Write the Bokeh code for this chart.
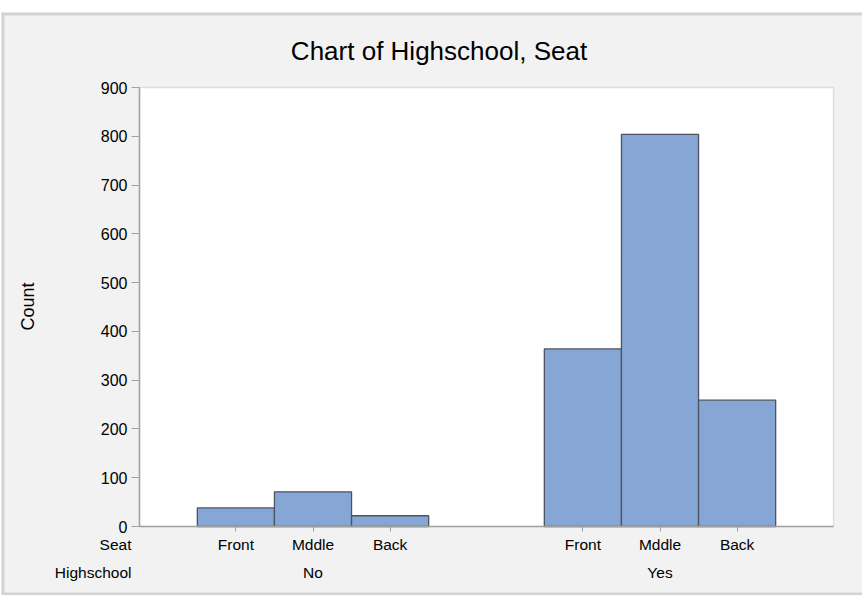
import math
from bokeh.plotting import figure
from bokeh.models import (Range1d, Label, ColumnDataSource, LinearAxis,
                          FixedTicker, BoxAnnotation, Span)
from bokeh.embed import file_html
from bokeh.resources import INLINE

# ---- data ----
groups = ["No", "Yes"]
seats = ["Front", "Mddle", "Back"]
highschool = ["No", "No", "No", "Yes", "Yes", "Yes"]
seat = ["Front", "Mddle", "Back", "Front", "Mddle", "Back"]
counts = [38, 71, 22, 364, 804, 259]
y_ticks = [0, 100, 200, 300, 400, 500, 600, 700, 800, 900]
title_text = "Chart of Highschool, Seat"
y_label = "Count"
x_label_inner = "Seat"
x_label_outer = "Highschool"

FONT = "Liberation Sans"

# ---- category layout (bar = 1 unit) ----
PAD, GAP = 0.75, 1.5
n_sub = len(seats)
x_span = 2 * PAD + len(groups) * n_sub + (len(groups) - 1) * GAP
def bar_center(g, s):
    return PAD + groups.index(g) * (n_sub + GAP) + seats.index(s) + 0.5
xs_bar = [bar_center(g, s) for g, s in zip(highschool, seat)]
group_centers = [sum(x for x, g in zip(xs_bar, highschool) if g == grp) /
                 highschool.count(grp) for grp in groups]
tick_pos = xs_bar
tick_lab = {x: s for x, s in zip(xs_bar, seat)}
y_max = y_ticks[-1]

# ---- canvas geometry (pixels inside the figure) ----
W, H = 861, 583
PA_L, PA_R, PA_T, PA_B = 138, 832, 75, 514
ux = x_span / (PA_R - PA_L)
uy = y_max / (PA_B - PA_T)
x0, x1 = -PA_L * ux, x_span + (W - PA_R) * ux
y0, y1 = -(H - PA_B) * uy, y_max + PA_T * uy

def fx(page_x):
    return x0 + (page_x - 1) * (x1 - x0) / W
def fy(page_y):
    return y1 - (page_y - 12) * (y1 - y0) / H

p = figure(x_range=Range1d(x0, x1), y_range=Range1d(y0, y1),
           width=W, height=H, output_backend="svg", toolbar_location=None,
           x_axis_type=None, y_axis_type=None,
           min_border_left=0, min_border_right=0, min_border_top=0,
           min_border_bottom=0, margin=(12, 0, 0, 1))
p.title.text = ""
p.background_fill_color = "#f2f2f2"
p.border_fill_color = "#f2f2f2"
p.outline_line_color = None
p.xgrid.visible = False
p.ygrid.visible = False

# panel border (left, top, bottom)
for loc, dim in [(x0, "height"), (y1, "width"), (y0, "width")]:
    p.add_layout(Span(location=loc, dimension=dim, line_color="#d3d3d3",
                      line_width=6))

# plot area
p.add_layout(BoxAnnotation(left=0, right=x_span, bottom=0, top=y_max,
                           fill_color="white", fill_alpha=1.0,
                           line_color="#a3a3a3", line_width=1.5,
                           level="underlay"))

src = ColumnDataSource(dict(x=xs_bar, top=counts, hs=highschool, seat=seat))
p.vbar(x="x", top="top", width=1.0, source=src, fill_color="#86a7d6",
       line_color="#4d5360", line_width=1.3)

# y axis
ya = LinearAxis(ticker=FixedTicker(ticks=y_ticks), fixed_location=0,
                bounds=(0, y_max))
ya.major_label_text_font = FONT
ya.major_label_text_font_size = "16px"
ya.major_label_text_color = "black"
ya.major_tick_out = 8
ya.major_tick_in = 0
ya.minor_tick_line_color = None
ya.major_tick_line_color = "#a3a3a3"
ya.axis_line_color = "#a3a3a3"
ya.axis_line_width = 1.5
ya.major_label_standoff = 4
p.add_layout(ya, "left")

# x axis
xa = LinearAxis(ticker=FixedTicker(ticks=tick_pos), fixed_location=0,
                bounds=(0, x_span), major_label_overrides=tick_lab)
xa.major_label_text_font = FONT
xa.major_label_text_font_size = "15.5px"
xa.major_label_text_color = "black"
xa.major_tick_out = 5
xa.major_tick_in = 0
xa.minor_tick_line_color = None
xa.major_tick_line_color = "#a3a3a3"
xa.axis_line_color = "#a3a3a3"
xa.axis_line_width = 1.5
xa.major_label_standoff = 4
p.add_layout(xa, "below")

def lab(text, x, y, size, align="center", angle=0.0):
    p.add_layout(Label(x=x, y=y, text=text, text_align=align,
                       text_baseline="middle", angle=angle,
                       text_font=FONT, text_font_size=size,
                       text_color="black"))

# title
lab(title_text, fx(438.5), fy(50.5), "26px")
# y label
lab(y_label, fx(27), fy(306), "18px", angle=math.pi / 2)
# x axis level names
lab(x_label_inner, fx(131), fy(543.5), "15.5px", align="right")
lab(x_label_outer, fx(131), fy(572), "15.5px", align="right")
# group labels
for g, gc in zip(groups, group_centers):
    lab(g, gc, fy(572), "15.5px")

open("out.html", "w").write(file_html(p, INLINE))
